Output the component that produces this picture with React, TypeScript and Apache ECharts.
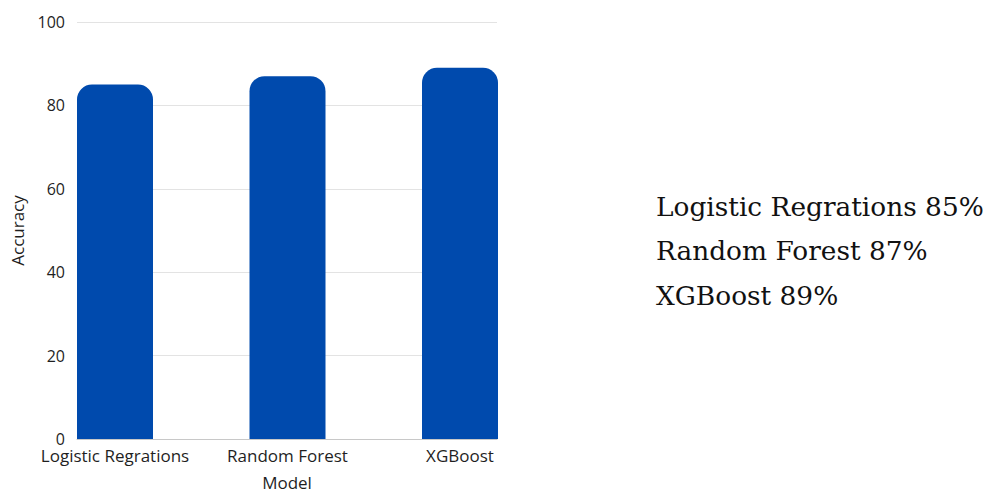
import React, { useEffect, useRef } from "react";
import * as echarts from "echarts";

const models = ["Logistic Regrations", "Random Forest", "XGBoost"];
const accuracy = [85, 87, 89];
const yTicks = { min: 0, max: 100, interval: 20 };

const BAR_COLOR = "#004aad";
const SANS = "'Open Sans', 'Noto Sans', sans-serif";
const SERIF = "'DejaVu Serif', 'Liberation Serif', serif";
const INK = "#1f1f1f";

export default function App() {
  const ref = useRef<HTMLDivElement>(null);

  useEffect(() => {
    if (!ref.current) return;
    const chart = echarts.init(ref.current, undefined, { renderer: "svg" });

    const summary = models.map((m, i) => `${m} ${accuracy[i]}%`);

    chart.setOption({
      animation: false,
      backgroundColor: "#ffffff",
      grid: [
        // frame for the value axis and gridlines
        { left: 77, right: 489, top: 22, bottom: 52, outerBoundsMode: "none" },
        // bar placement: outer bars sit flush with the frame edges
        { left: 115, right: 526, top: 22, bottom: 52, outerBoundsMode: "none" },
      ],
      xAxis: [
        {
          gridIndex: 0,
          type: "category",
          data: models,
          axisLine: { show: true, lineStyle: { color: "#c8c8c8", width: 1 } },
          axisTick: { show: false },
          axisLabel: { show: false },
          name: "Model",
          nameLocation: "middle",
          nameGap: 35,
          nameTextStyle: { fontFamily: SANS, fontSize: 17, lineHeight: 16, color: INK },
        },
        {
          gridIndex: 1,
          type: "category",
          data: models,
          boundaryGap: false,
          axisLine: { show: false },
          axisTick: { show: false },
          axisLabel: {
            fontFamily: SANS,
            fontSize: 17,
            lineHeight: 17,
            color: INK,
            margin: 8,
            interval: 0,
          },
        },
      ],
      yAxis: [
        {
          gridIndex: 0,
          type: "value",
          ...yTicks,
          axisLine: { show: false },
          axisTick: { show: false },
          splitLine: { lineStyle: { color: "#e3e3e3", width: 1 } },
          axisLabel: { fontFamily: SANS, fontSize: 16, lineHeight: 14, color: INK, margin: 12 },
          name: "Accuracy",
          nameLocation: "middle",
          nameGap: 51,
          nameTextStyle: { fontFamily: SANS, fontSize: 17, color: INK },
        },
        {
          gridIndex: 1,
          type: "value",
          ...yTicks,
          show: false,
          splitLine: { show: false },
        },
      ],
      series: [
        {
          type: "bar",
          xAxisIndex: 1,
          yAxisIndex: 1,
          data: accuracy,
          barWidth: 76,
          clip: false,
          itemStyle: { color: BAR_COLOR, borderRadius: [15, 15, 0, 0] },
        },
      ],
      graphic: summary.map((t, i) => ({
        type: "text",
        left: 656,
        top: 193 + i * 44.5,
        style: {
          text: t,
          fontFamily: SERIF,
          fontSize: 26.4,
          fill: "#111",
        },
      })),
    });

    return () => chart.dispose();
  }, []);

  return (
    <div
      ref={ref}
      style={{ position: "fixed", left: 0, top: 0, width: 986, height: 491 }}
    />
  );
}
